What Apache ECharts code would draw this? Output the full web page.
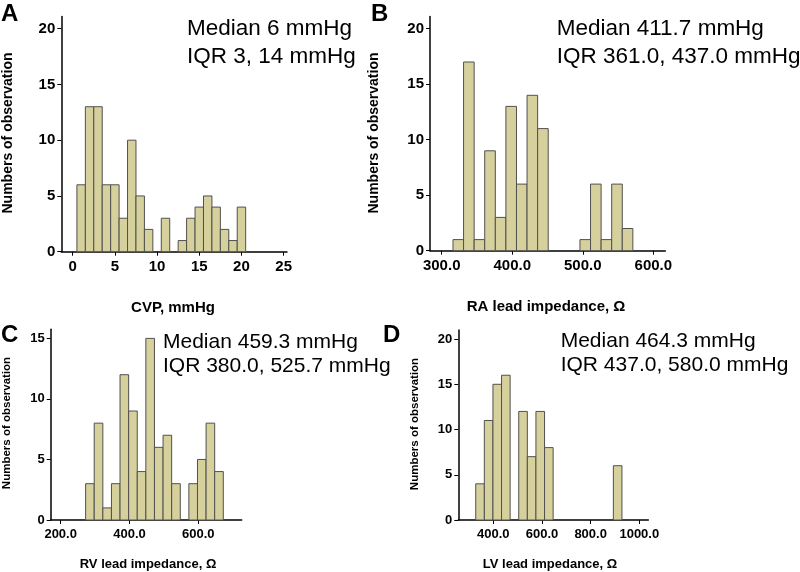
<!DOCTYPE html>
<html>
<head>
<meta charset="utf-8">
<script src="https://cdn.jsdelivr.net/npm/echarts@6/dist/echarts.min.js"></script>
<style>
html,body{margin:0;padding:0;background:#fff;}
#chart{width:800px;height:572px;}
</style>
</head>
<body>
<div id="chart"></div>
<script>
// ---- Data ----
// Panel A: CVP, mmHg (bin width 1)
var cvpCenters = [1, 2, 3, 4, 5, 6, 7, 8, 9, 11, 13, 14, 15, 16, 17, 18, 19, 20];
var cvpCounts  = [6, 13, 13, 6, 6, 3, 10, 5, 2, 3, 1, 3, 4, 5, 4, 2, 1, 4];
var cvpBinWidth = 1;
var cvpTicks = [0, 5, 10, 15, 20, 25];

// Panel B: RA lead impedance
var raCenters = [323.5, 338.5, 353.5, 368.5, 383.5, 398.5, 413.5, 428.5, 443.5, 503.5, 518.5, 533.5, 548.5, 563.5];
var raCounts  = [1, 17, 1, 9, 3, 13, 6, 14, 11, 1, 6, 1, 6, 2];
var raBinWidth = 15;
var raTicks = [300, 400, 500, 600];

// Panel C: RV lead impedance
var rvCenters = [285, 310, 335, 360, 385, 410, 435, 460, 485, 510, 535, 585, 610, 635, 660];
var rvCounts  = [3, 8, 1, 3, 12, 9, 4, 15, 6, 7, 3, 3, 5, 8, 4];
var rvBinWidth = 25;
var rvTicks = [200, 400, 600];

// Panel D: LV lead impedance
var lvCenters = [345.4, 380.7, 416.1, 451.4, 522.1, 557.5, 592.8, 628.2, 911];
var lvCounts  = [4, 11, 15, 16, 12, 7, 12, 8, 6];
var lvBinWidth = 35.35;
var lvTicks = [400, 600, 800, 1000];

var countTicksA = [0, 5, 10, 15, 20];
var countTicksB = [0, 5, 10, 15, 20];
var countTicksC = [0, 5, 10, 15];
var countTicksD = [0, 5, 10, 15, 20];

// ---- Styles ----
var FONT = '"Liberation Sans", Arial, Helvetica, sans-serif';
var BAR_FILL = '#d6d19c';
var BAR_STROKE = '#505050';

function pairs(xs, ys) { return xs.map(function (x, i) { return [x, ys[i]]; }); }

function makeRender(binWidth) {
  return function (params, api) {
    var c = api.value(0), n = api.value(1);
    if (!n) return null;
    var p0 = api.coord([c - binWidth / 2, n]);
    var p1 = api.coord([c + binWidth / 2, 0]);
    return {
      type: 'rect',
      shape: { x: p0[0], y: p0[1], width: p1[0] - p0[0], height: p1[1] - p0[1] },
      style: { fill: BAR_FILL, stroke: BAR_STROKE, lineWidth: 1 }
    };
  };
}

function xAxisCfg(gi, min, max, ticks, fontSize, decimals) {
  return {
    type: 'value', gridIndex: gi, min: min, max: max,
    axisLine: { show: true, onZero: false, lineStyle: { color: '#000', width: 1.5 } },
    axisTick: { show: true, length: 4, customValues: ticks, lineStyle: { color: '#000', width: 1 } },
    axisLabel: {
      customValues: ticks, margin: 8, color: '#000', fontFamily: FONT, fontWeight: 'bold', fontSize: fontSize,
      formatter: function (v) { return decimals ? Number(v).toFixed(1) : String(v); }
    },
    splitLine: { show: false }
  };
}

function yAxisCfg(gi, max, ticks, fontSize) {
  return {
    type: 'value', gridIndex: gi, min: 0, max: max,
    axisLine: { show: true, onZero: false, lineStyle: { color: '#000', width: 1.5 } },
    axisTick: { show: true, length: 4, customValues: ticks, lineStyle: { color: '#000', width: 1 } },
    axisLabel: { customValues: ticks, margin: 6, color: '#000', fontFamily: FONT, fontWeight: 'bold', fontSize: fontSize },
    splitLine: { show: false }
  };
}

// text placed by baseline: top-aligned with an offset of 0.82em
function txt(x, baseline, text, size, weight, align) {
  return {
    type: 'text', x: x, y: baseline - 0.82 * size,
    style: {
      text: text, fill: '#000',
      font: (weight || 'normal') + ' ' + size + 'px ' + FONT,
      textAlign: align || 'left', align: align || 'left',
      textVerticalAlign: 'top', verticalAlign: 'top'
    }
  };
}
function vtxt(x, y, text, size) {
  return {
    type: 'text', x: x, y: y, rotation: Math.PI / 2,
    style: {
      text: text, fill: '#000',
      font: 'bold ' + size + 'px ' + FONT,
      textAlign: 'center', align: 'center',
      textVerticalAlign: 'middle', verticalAlign: 'middle'
    }
  };
}

var option = {
  backgroundColor: '#fff',
  animation: false,
  grid: [
    { left: 61.3, top: 16.4, width: 225.7, height: 235.3 },
    { left: 430, top: 16.5, width: 235.3, height: 234.2 },
    { left: 50.7, top: 329.3, width: 191, height: 190.7 },
    { left: 458.3, top: 330, width: 190, height: 190 }
  ],
  xAxis: [
    xAxisCfg(0, -1.35, 25.4, cvpTicks, 15, false),
    xAxisCfg(1, 283.4, 617, raTicks, 15, true),
    xAxisCfg(2, 171, 726, rvTicks, 13, true),
    xAxisCfg(3, 256, 1037, lvTicks, 13, true)
  ],
  yAxis: [
    yAxisCfg(0, 21.1, countTicksA, 15),
    yAxisCfg(1, 21.1, countTicksB, 15),
    yAxisCfg(2, 15.75, countTicksC, 13),
    yAxisCfg(3, 21.0, countTicksD, 13)
  ],
  series: [
    { type: 'custom', xAxisIndex: 0, yAxisIndex: 0, renderItem: makeRender(cvpBinWidth), data: pairs(cvpCenters, cvpCounts), encode: { x: 0, y: 1 } },
    { type: 'custom', xAxisIndex: 1, yAxisIndex: 1, renderItem: makeRender(raBinWidth), data: pairs(raCenters, raCounts), encode: { x: 0, y: 1 } },
    { type: 'custom', xAxisIndex: 2, yAxisIndex: 2, renderItem: makeRender(rvBinWidth), data: pairs(rvCenters, rvCounts), encode: { x: 0, y: 1 } },
    { type: 'custom', xAxisIndex: 3, yAxisIndex: 3, renderItem: makeRender(lvBinWidth), data: pairs(lvCenters, lvCounts), encode: { x: 0, y: 1 } }
  ],
  graphic: [
    // panel letters
    txt(1, 21.7, 'A', 24, 'bold'),
    txt(371, 21.7, 'B', 24, 'bold'),
    txt(1, 343.3, 'C', 24, 'bold'),
    txt(383, 343.3, 'D', 24, 'bold'),
    // annotations
    txt(187, 35.7, 'Median 6 mmHg', 22.5),
    txt(187, 63.3, 'IQR 3, 14 mmHg', 22.5),
    txt(556.7, 35.7, 'Median 411.7 mmHg', 22.5),
    txt(556.7, 63.3, 'IQR 361.0, 437.0 mmHg', 22.5),
    txt(163, 349, 'Median 459.3 mmHg', 21),
    txt(163, 372.5, 'IQR 380.0, 525.7 mmHg', 21),
    txt(560.7, 348.3, 'Median 464.3 mmHg', 21),
    txt(560.7, 371.7, 'IQR 437.0, 580.0 mmHg', 21),
    // x axis titles
    txt(173, 313, 'CVP, mmHg', 15, 'bold', 'center'),
    txt(546, 311.5, 'RA lead impedance, \u03A9', 15, 'bold', 'center'),
    txt(148, 569, 'RV lead impedance, \u03A9', 13, 'bold', 'center'),
    txt(550, 568.3, 'LV lead impedance, \u03A9', 13, 'bold', 'center'),
    // y axis titles
    vtxt(8, 133, 'Numbers of observation', 14),
    vtxt(374, 133, 'Numbers of observation', 14),
    vtxt(7, 423, 'Numbers of observation', 11.5),
    vtxt(415, 424, 'Numbers of observation', 11.5)
  ]
};

var chart = echarts.init(document.getElementById('chart'), null, { renderer: 'canvas' });
chart.setOption(option);
</script>
</body>
</html>
